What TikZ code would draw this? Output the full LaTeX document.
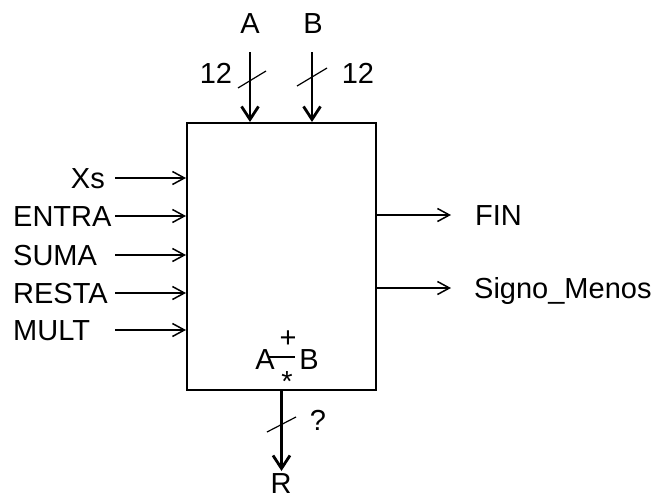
\documentclass[tikz,border=0pt]{standalone}
\usepackage{fontspec}
\setmainfont{Liberation Sans}
\usetikzlibrary{arrows.meta}
\begin{document}
\begin{tikzpicture}[x=1pt,y=-1pt,
  lbl/.style={inner sep=0pt, font=\fontsize{29}{34}\selectfont},
  blockbox/.style={draw, line width=2pt, inner sep=0pt, minimum width=189pt, minimum height=267pt},
  harrow/.style={line width=1.5pt, -{Straight Barb[length=12pt,width=13pt]}},
  varrow/.style={line width=2.8pt, -{Straight Barb[length=13pt,width=17pt]}},
  slash/.style={line width=1.2pt}]
\useasboundingbox (0,0) rectangle (654,498);
% main block
\node[blockbox] (box) at (281.5,256.5) {};
% left inputs
\coordinate (xs0) at (115,178);
\coordinate (en0) at (115,216);
\coordinate (su0) at (115,255);
\coordinate (re0) at (115,293);
\coordinate (mu0) at (115,330);
\draw[harrow] (xs0) -- (xs0 -| box.west);
\draw[harrow] (en0) -- (en0 -| box.west);
\draw[harrow] (su0) -- (su0 -| box.west);
\draw[harrow] (re0) -- (re0 -| box.west);
\draw[harrow] (mu0) -- (mu0 -| box.west);
\node[lbl, anchor=base east] (xs) at (105,188.5) {Xs};
\node[lbl, anchor=base west] (en) at (13,226.5) {ENTRA};
\node[lbl, anchor=base west] (su) at (13,265.5) {SUMA};
\node[lbl, anchor=base west] (re) at (13,303.5) {RESTA};
\node[lbl, anchor=base west] (mu) at (13,340.5) {MULT};
% right outputs
\coordinate (fin1) at (451,215);
\coordinate (sig1) at (451,288);
\draw[harrow] (fin1 -| box.east) -- (fin1);
\draw[harrow] (sig1 -| box.east) -- (sig1);
\node[lbl, anchor=base west] (fin) at (475,225.5) {FIN};
\node[lbl, anchor=base west] (sig) at (474,298.5) {Signo\_Menos};
% top inputs
\coordinate (a0) at (250,52);
\coordinate (b0) at (312,52);
\draw[varrow] (a0) -- (a0 |- box.north);
\draw[varrow] (b0) -- (b0 |- box.north);
\node[lbl, anchor=base] (la) at (250,33) {A};
\node[lbl, anchor=base] (lb) at (313,33) {B};
\draw[slash] (238,88) -- (266,71);
\draw[slash] (297,86) -- (327,68);
\node[lbl, anchor=base] (n12a) at (216,83.5) {12};
\node[lbl, anchor=base] (n12b) at (358,83.5) {12};
% bottom output
\coordinate (r1) at (281.5,471);
\draw[varrow] (r1 |- box.south) -- (r1);
\draw[slash] (267,432) -- (296,417);
\node[lbl, anchor=base] (q) at (318,430.5) {?};
\node[lbl, anchor=base] (lr) at (281,493) {R};
% operation symbol inside
\node[lbl, anchor=base] (ia) at (265,369.5) {A};
\node[lbl, anchor=base] (ib) at (309,369.5) {B};
\draw[line width=1.5pt] (268,357) -- (295,357);
\node[lbl, anchor=base] (plus) at (288,347) {+};
\node[lbl, anchor=base] (star) at (287,391) {*};
\end{tikzpicture}
\end{document}
